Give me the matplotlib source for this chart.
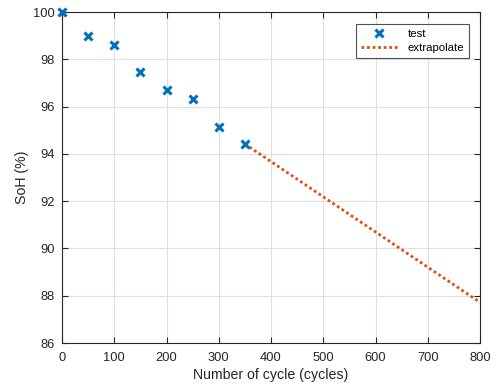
import matplotlib
matplotlib.use("Agg")
import matplotlib.pyplot as plt

plt.rcParams['font.family'] = ['Liberation Sans', 'DejaVu Sans']

cycles_test = [0, 50, 100, 150, 200, 250, 300, 350]
soh_test = [100.0, 98.98, 98.6, 97.47, 96.7, 96.31, 95.15, 94.42]
cycles_extrap = [350, 800]
soh_extrap = [94.42, 87.72]
xticks = [0, 100, 200, 300, 400, 500, 600, 700, 800]
yticks = [86, 88, 90, 92, 94, 96, 98, 100]

fig = plt.figure(figsize=(5, 3.9), dpi=100)
ax = fig.add_axes([0.124, 0.1205, 0.836, 0.8485])

ax.plot(cycles_test, soh_test, linestyle='none', marker='x', color='#0072BD',
        markersize=6, markeredgewidth=2.2, label='test', clip_on=False, zorder=3)
ax.plot(cycles_extrap, soh_extrap, linestyle=(0, (1, 1)), color='#D95319',
        linewidth=2, label='extrapolate', zorder=2)

ax.set_xlim(0, 800)
ax.set_ylim(86, 100)
ax.set_xticks(xticks)
ax.set_yticks(yticks)
ax.grid(True, color='#DFDFDF', linewidth=0.8)
ax.set_axisbelow(True)
ax.tick_params(direction='in', length=4, width=0.8, labelsize=9.3, colors='#262626',
               top=True, right=True)
ax.tick_params(axis='x', pad=6.5)
ax.tick_params(axis='y', pad=5)
for s in ax.spines.values():
    s.set_color('#262626')
    s.set_linewidth(0.8)
ax.set_xlabel('Number of cycle (cycles)', fontsize=10.2, color='#262626', labelpad=3)
ax.set_ylabel('SoH (%)', fontsize=10.2, color='#262626', labelpad=3)

leg = ax.legend(loc='upper right', bbox_to_anchor=(0.974, 0.964), borderaxespad=0,
                fontsize=8.2, frameon=True, fancybox=False, edgecolor='#262626',
                handlelength=3.3, borderpad=0.45, labelspacing=0.35, handletextpad=0.8)
leg.get_frame().set_linewidth(0.8)

fig.savefig('out.png', dpi=100)
